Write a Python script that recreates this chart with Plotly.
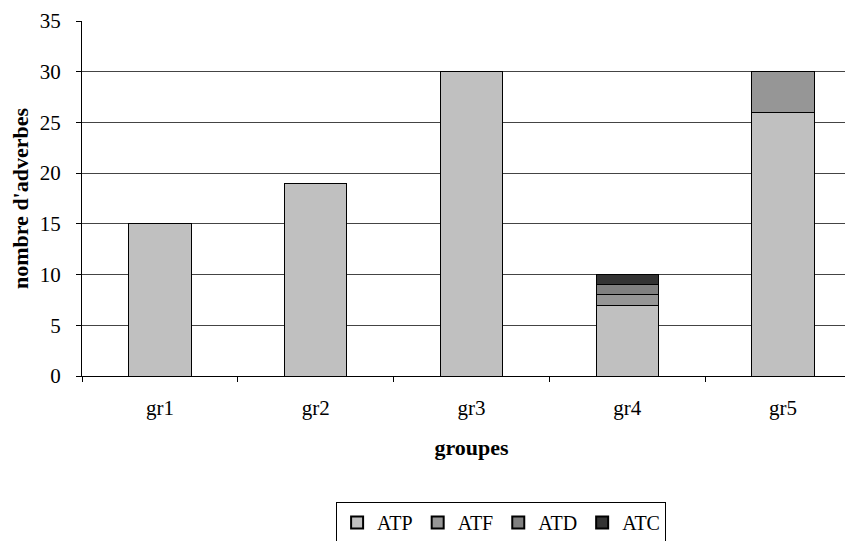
import plotly.graph_objects as go

groups = ["gr1", "gr2", "gr3", "gr4", "gr5"]
atp = [15, 19, 30, 7, 26]
atf = [None, None, None, 1, 4]
atd = [None, None, None, 1, None]
atc = [None, None, None, 1, None]

series = [("ATP", atp, "#c0c0c0"), ("ATF", atf, "#969696"),
          ("ATD", atd, "#808080"), ("ATC", atc, "#333333")]

fig = go.Figure()
for name, vals, col in series:
    fig.add_trace(go.Bar(x=groups, y=vals, name=name, width=0.4,
                         marker=dict(color=col, line=dict(color="black", width=1))))

fam = "Liberation Serif, Times New Roman, serif"
font = dict(family=fam, size=21, color="black")
lfont = dict(family=fam, size=20, color="black")
tfont = dict(family=fam, size=22, color="black")
fig.update_layout(
    barmode="stack", width=853, height=541,
    margin=dict(l=74, r=0, t=13, b=173, autoexpand=False),
    plot_bgcolor="white", paper_bgcolor="white", font=font,
    legend=dict(orientation="h", x=0.538, xanchor="center", y=-0.355, yanchor="top",
                bordercolor="black", borderwidth=1, font=lfont,
                itemsizing="constant", traceorder="normal", itemwidth=30),
    xaxis=dict(range=[-0.5, 4.5], tickson="boundaries", ticks="outside", ticklen=5,
               tickcolor="black", showline=True, linecolor="black", showgrid=False,
               ticklabelstandoff=13,
               title=dict(text="<b>groupes</b>", standoff=20, font=tfont)),
    yaxis=dict(range=[0, 35], dtick=5, ticks="outside", ticklen=5, tickcolor="black",
               showline=True, linecolor="black", showgrid=True, gridcolor="#444",
               gridwidth=1, zeroline=False, ticklabelstandoff=11,
               title=dict(text="<b>nombre d'adverbes</b>", standoff=12, font=tfont)),
)
fig.write_html("out.html")
